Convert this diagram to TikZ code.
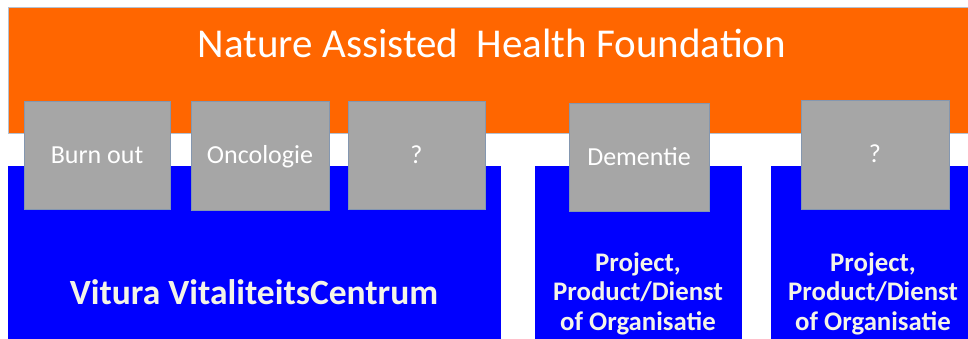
\documentclass[tikz,border=0pt]{standalone}
\usepackage{fontspec}
\setmainfont{Carlito}
\usepackage{tikz}
\usetikzlibrary{positioning,backgrounds}
\definecolor{nahforange}{RGB}{255,102,0}
\definecolor{nahfblue}{RGB}{0,0,255}
\definecolor{nahfgrey}{RGB}{166,166,166}
\definecolor{nahfedge}{RGB}{132,151,176}
\definecolor{nahftext}{RGB}{244,244,232}
\newcommand{\boxfont}{\fontsize{26}{30}\selectfont}
\newcommand{\orgfont}{\fontsize{26.8}{29.5}\selectfont\bfseries}

\tikzset{
  theme/.style={draw=none, inner sep=0pt, outer sep=0pt, text=white},
  themebox/.style={theme, fill=nahfgrey, draw=nahfedge, line width=0.8pt, font=\boxfont,
    text height=16.8pt, text depth=0pt},
  orgtext/.style={inner sep=0pt, text=nahftext, align=center, font=\orgfont}
}

\begin{document}
\begin{tikzpicture}[x=1pt,y=-1pt]
\useasboundingbox (0,0) rectangle (968,338);
\clip (0,0) rectangle (968,338);
% foundation
\fill[nahforange, draw=nahfedge!60, line width=0.6pt] (8,7) rectangle (980,133);
\node[theme, font=\fontsize{41}{44}\selectfont, anchor=base] (title) at (492,57) {Nature Assisted\ \ Health Foundation};
% organisaties
\fill[nahfblue] (8,166) rectangle (501,350);
\fill[nahfblue] (535,166) rectangle (742,350);
\fill[nahfblue] (771,166) rectangle (980,350);
\node[orgtext, font=\fontsize{35.5}{38}\selectfont\bfseries, anchor=base] (vitura) at (254,304) {Vitura VitaliteitsCentrum};
\node[orgtext, anchor=base] (org1) at (638,330) {Project,\\Product/Dienst\\of Organisatie};
\node[orgtext, anchor=base] (org2) at (873,330) {Project,\\Product/Dienst\\of Organisatie};
% thema's
\node[themebox, minimum width=146, minimum height=108] (1) at (97,155) {Burn out};
\node[themebox, minimum width=138, minimum height=109] (2) at (260,155.5) {Oncologie};
\node[themebox, minimum width=137, minimum height=108] (3) at (416.5,155) {?};
\node[themebox, minimum width=140, minimum height=108] (4) at (639,157) {Dementie};
\node[themebox, minimum width=148, minimum height=109] (5) at (875,154.5) {?};
\end{tikzpicture}
\end{document}
